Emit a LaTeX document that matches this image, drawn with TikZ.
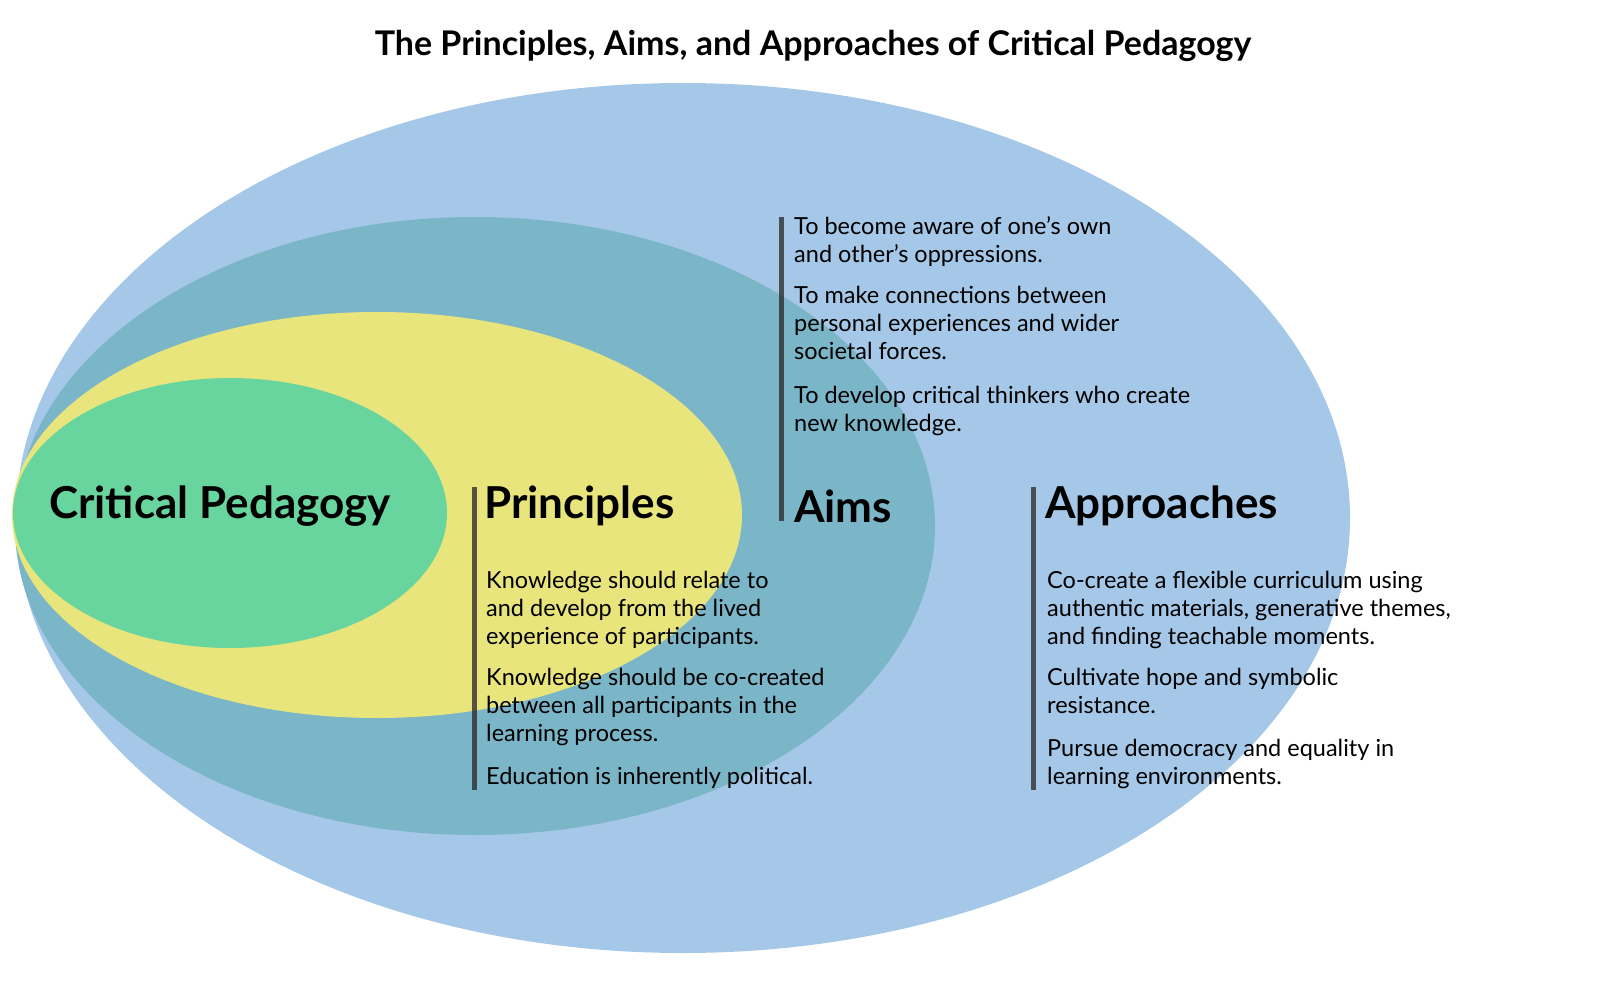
\documentclass[tikz,border=0pt]{standalone}
\usepackage{fontspec}
\setmainfont{Lato}
\begin{document}
\begin{tikzpicture}[x=1pt,y=-1pt,
  body/.style={anchor=north west,inner sep=0pt,align=left,font=\fontsize{23.5}{28}\selectfont},
  head/.style={anchor=west,inner sep=0pt,font=\fontsize{44}{50}\selectfont\bfseries},
  bar/.style={line width=5pt,draw=black!70!gray,opacity=0.75}]
\useasboundingbox (0,0) rectangle (1600,1000);
\fill[fill={rgb,255:red,166;green,200;blue,232}] (683,518) ellipse [x radius=667,y radius=435];
\fill[fill={rgb,255:red,123;green,181;blue,200}] (475,526) ellipse [x radius=460,y radius=309];
\fill[fill={rgb,255:red,232;green,229;blue,124}] (377,515) ellipse [x radius=365,y radius=203];
\fill[fill={rgb,255:red,105;green,213;blue,158}] (230,513) ellipse [x radius=217,y radius=135];
\node[inner sep=0pt,font=\fontsize{34}{40}\selectfont\bfseries] (title) at (813,46) {The Principles, Aims, and Approaches of Critical Pedagogy};
\node[head] (cp) at (49,506) {Critical Pedagogy};
\node[head] (pr) at (484,506) {Principles};
\node[head] (ai) at (794,506) {Aims};
\node[head] (ap) at (1045,506) {Approaches};
\coordinate (b1t) at (474,487); \coordinate (b1b) at (474,790);
\coordinate (b2t) at (781,217); \coordinate (b2b) at (781,521);
\coordinate (b3t) at (1033,487); \coordinate (b3b) at (1033,790);
\draw[bar] (b1t) -- (b1b);
\draw[bar] (b2t) -- (b2b);
\draw[bar] (b3t) -- (b3b);
\node[body] (p1) at (486,571) {Knowledge should relate to\\and develop from the lived\\experience of participants.};
\node[body] (p2) at (486,668) {Knowledge should be co-created\\between all participants in the\\learning process.};
\node[body] (p3) at (486,767) {Education is inherently political.};
\node[body] (a1) at (794,216) {To become aware of one’s own\\and other’s oppressions.};
\node[body] (a2) at (794,286) {To make connections between\\personal experiences and wider\\societal forces.};
\node[body] (a3) at (794,386) {To develop critical thinkers who create\\new knowledge.};
\node[body] (c1) at (1047,571) {Co-create a flexible curriculum using\\authentic materials, generative themes,\\and finding teachable moments.};
\node[body] (c2) at (1047,668) {Cultivate hope and symbolic\\resistance.};
\node[body] (c3) at (1047,739) {Pursue democracy and equality in\\learning environments.};
\end{tikzpicture}
\end{document}
